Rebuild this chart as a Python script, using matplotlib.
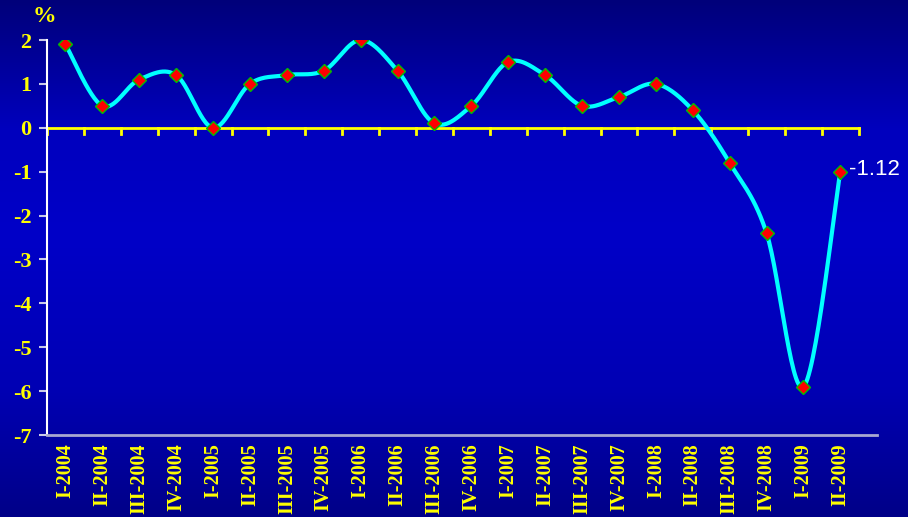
import numpy as np
import matplotlib
matplotlib.use("Agg")
import matplotlib.pyplot as plt
from matplotlib.colors import LinearSegmentedColormap

categories = ["I-2004", "II-2004", "III-2004", "IV-2004",
              "I-2005", "II-2005", "III-2005", "IV-2005",
              "I-2006", "II-2006", "III-2006", "IV-2006",
              "I-2007", "II-2007", "III-2007", "IV-2007",
              "I-2008", "II-2008", "III-2008", "IV-2008",
              "I-2009", "II-2009"]
values = [1.9, 0.5, 1.1, 1.2,
          0.0, 1.0, 1.2, 1.3,
          2.0, 1.3, 0.1, 0.5,
          1.5, 1.2, 0.5, 0.7,
          1.0, 0.4, -0.8, -2.4,
          -5.9, -1.0]
last_label = "-1.12"
yticks = [2, 1, 0, -1, -2, -3, -4, -5, -6, -7]

YEL = "#FFFF00"

fig = plt.figure(figsize=(9.08, 5.17), dpi=100)

# gradient background
bg = fig.add_axes([0, 0, 1, 1])
cmap = LinearSegmentedColormap.from_list(
    "bg", [(0.0, "#00007A"), (0.25, "#0000BE"), (0.45, "#0000C8"),
           (0.75, "#0000B4"), (1.0, "#000088")])
grad = np.linspace(0, 1, 256).reshape(-1, 1)
bg.imshow(grad, aspect="auto", cmap=cmap, extent=[0, 1, 0, 1], origin="upper")
bg.axis("off")

W, H = 908, 517
left, right, top, bottom = 47, 877, 40, 435
unit = 36.9
ax = fig.add_axes([left / W, 1 - bottom / H, (right - left) / W, (bottom - top) / H])
ax.patch.set_alpha(0)

n = len(values)
x = np.arange(n)
ax.set_xlim(-0.5, -0.5 + (right - left) / unit)
ax.set_ylim(-7, 2)

# Catmull-Rom smoothing (Excel-like smoothed line)
def smooth(xs, ys, steps=30):
    P = np.column_stack([xs, ys]).astype(float)
    P = np.vstack([P[0], P, P[-1]])
    out = []
    for i in range(1, len(P) - 2):
        p0, p1, p2, p3 = P[i - 1], P[i], P[i + 1], P[i + 2]
        t = np.linspace(0, 1, steps, endpoint=False)[:, None]
        c1 = p1 + (p2 - p0) / 6
        c2 = p2 - (p3 - p1) / 6
        b = ((1 - t) ** 3) * p1 + 3 * ((1 - t) ** 2) * t * c1 + 3 * (1 - t) * t ** 2 * c2 + t ** 3 * p2
        out.append(b)
    out.append(P[-2][None, :])
    out = np.vstack(out)
    return out[:, 0], out[:, 1]

# zero line with yellow ticks
ax.plot([-0.5, n - 0.5], [0, 0], color=YEL, lw=2, zorder=2, clip_on=False)
for b in np.arange(-0.5, n, 1.0):
    ax.plot([b, b], [0, -0.14], color=YEL, lw=2, zorder=2, clip_on=False)

sx, sy = smooth(x, values)
ax.plot(sx, sy, color="#00FFFF", lw=3, zorder=3, solid_capstyle="round")
ax.plot(x, values, linestyle="none", marker="D", markersize=7.5,
        markerfacecolor="#FF0000", markeredgecolor="#00C000", markeredgewidth=1, zorder=4)

ax.annotate(last_label, (x[-1], values[-1]), xytext=(6, 1.5), textcoords="offset points",
            color="white", fontsize=16, family="Liberation Sans", va="center", ha="left")

# spines
for s in ["top", "right"]:
    ax.spines[s].set_visible(False)
ax.spines["left"].set_color("white")
ax.spines["left"].set_linewidth(1.5)
ax.spines["bottom"].set_color("#A8A8D0")
ax.spines["bottom"].set_linewidth(2)

ax.set_yticks(yticks)
ax.set_yticklabels([str(v) for v in yticks], color=YEL, fontsize=16,
                   fontweight="bold", family="Liberation Serif")
ax.tick_params(axis="y", colors="#C8C8E8", length=6, width=1.5, pad=5, labelcolor=YEL)

ax.set_xticks(x)
ax.set_xticklabels(categories, rotation=90, color=YEL, fontsize=14.5,
                   fontweight="bold", family="Liberation Serif", va="top")
ax.tick_params(axis="x", length=0, pad=6, labelcolor=YEL)

fig.text(44 / W, 1 - 17 / H, "%", color=YEL, fontsize=17, fontweight="bold",
         family="Liberation Serif", ha="center", va="center")

fig.savefig("out.png", dpi=100)
